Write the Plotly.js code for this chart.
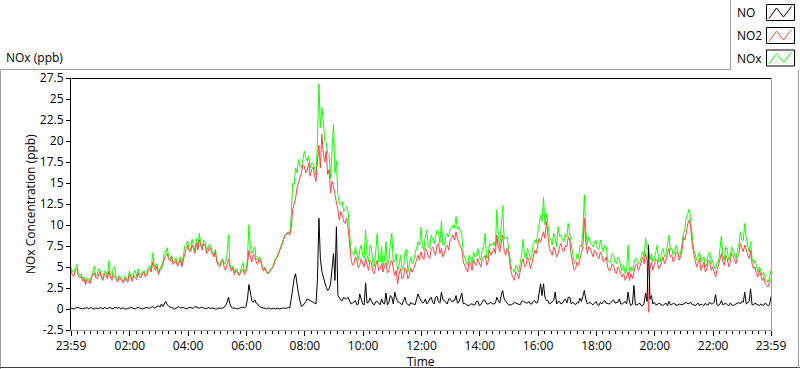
<!DOCTYPE html>
<html>
<head>
<meta charset="utf-8">
<script src="https://cdn.plot.ly/plotly-3.0.1.min.js"></script>
<style>html,body{margin:0;padding:0;background:#fff;}#chart{width:800px;height:369px;}</style>
</head>
<body>
<div id="chart"></div>
<script>
// Readings every 3 minutes from 23:59 to 23:59 next day.
// "on-grid" readings (every 6 min) and the readings between them (the 3-min mid points).
const startTime = Date.UTC(2024, 0, 1, 23, 59);
const stepMinutes = 3;

const no2Grid = [
4.6,3.9,4.8,3.7,3.3,2.9,3.3,3.8,4.3,3.6,4.4,3.4,4.0,4.5,3.4,3.9,3.2,3.6,3.1,3.5,4.1,3.3,3.8,4.3,3.7,4.4,4.0,4.8,5.6,4.6,4.1,4.8,5.9,6.6,5.7,5.3,5.8,5.4,5.0,6.6,7.6,6.8,7.2,7.8,8.2,7.0,7.6,6.9,
7.0,6.2,5.6,5.0,5.8,4.6,5.9,4.5,4.1,4.5,4.2,4.7,4.4,7.0,5.6,6.4,5.3,5.7,4.5,4.4,4.3,4.8,5.8,6.4,7.4,8.4,8.9,8.8,11.8,13.2,15.0,16.2,17.0,16.5,15.8,16.9,15.2,19.5,20.8,17.5,16.0,13.8,14.6,12.8,10.6,11.2,10.2,9.6,
6.0,5.4,5.8,5.2,5.6,6.0,4.6,5.5,4.2,5.8,4.8,4.4,5.5,4.6,5.8,4.0,3.0,4.8,3.8,4.6,4.0,4.4,5.4,6.4,6.8,5.9,7.0,6.0,7.4,6.4,7.8,7.2,6.6,7.6,8.2,8.8,9.2,8.0,7.0,5.2,4.4,5.4,5.8,5.2,5.6,5.9,6.4,5.6,
6.4,7.2,8.8,6.8,8.8,6.4,6.8,4.2,3.4,4.2,4.8,6.0,5.2,5.8,5.4,7.0,7.6,8.0,9.2,10.4,7.2,6.4,7.0,6.6,7.8,6.8,7.4,8.2,5.4,4.8,5.2,6.4,10.8,6.6,7.2,6.2,6.8,6.0,6.4,5.8,5.0,4.6,5.2,4.2,4.8,3.8,3.4,4.4,
4.2,4.6,5.4,5.0,6.2,6.6,-0.4,5.6,5.2,5.8,5.0,6.2,5.8,7.2,6.4,6.0,6.6,6.2,8.6,9.4,10.6,7.6,5.8,5.4,4.6,5.6,4.8,5.6,5.0,3.8,5.2,6.6,5.2,6.0,5.6,6.4,5.4,6.6,7.4,7.6,6.4,7.0,4.8,4.2,4.6,3.4,3.0,2.6,3.6
];
const no2Mid = [
4.0,4.6,3.9,3.9,3.6,3.5,3.0,4.1,3.7,4.2,3.6,4.2,3.6,3.8,4.1,3.5,3.8,3.3,3.7,3.2,3.6,4.0,3.5,3.8,4.2,3.8,4.6,4.4,4.9,5.1,4.6,5.3,6.4,5.9,6.2,5.6,5.1,5.9,5.8,7.2,6.9,7.6,6.6,7.0,7.4,7.8,6.6,7.4,
6.4,6.8,5.2,5.6,5.0,5.4,5.0,4.9,4.6,4.0,4.6,4.1,5.2,6.2,6.5,5.6,6.0,5.0,4.9,4.2,4.7,5.2,6.0,6.9,7.8,8.8,9.1,9.6,12.4,14.4,15.6,17.2,16.2,17.4,16.6,15.9,17.6,16.8,18.6,18.8,16.6,15.2,13.6,11.8,11.6,10.4,10.8,7.2,
5.2,6.2,4.9,6.0,5.0,5.3,5.8,4.5,5.2,4.6,5.4,5.2,4.3,5.6,4.8,4.6,4.2,3.6,4.9,3.6,4.9,4.8,6.0,5.8,6.2,7.2,6.2,7.2,6.8,7.6,6.6,6.2,7.4,7.0,8.4,8.2,8.4,7.4,5.6,4.8,5.6,4.6,5.4,6.0,5.0,6.2,5.2,7.0,
6.8,6.6,7.4,7.8,7.0,7.2,5.4,3.8,4.4,3.6,5.4,5.0,6.2,4.8,6.2,6.6,8.4,8.8,8.4,8.8,6.8,7.4,6.2,7.4,7.0,7.6,8.6,6.4,4.6,5.6,6.0,7.4,7.8,7.4,6.6,7.0,6.2,6.8,5.6,6.2,4.6,5.4,4.4,5.0,4.2,4.2,3.8,3.4,
3.6,5.2,4.6,5.8,5.4,5.8,4.8,4.6,6.0,4.8,5.6,5.4,6.6,6.2,5.6,6.8,5.8,7.0,8.2,10.2,9.6,6.4,5.0,6.0,5.2,4.4,5.8,4.6,4.4,4.6,6.0,5.6,6.4,5.0,6.6,5.8,6.2,7.8,6.8,7.2,6.0,5.4,5.0,3.8,4.0,3.8,2.8,3.2
];

const noxGrid = [
5.0,4.4,5.3,4.0,3.6,3.1,3.6,4.0,5.1,4.0,4.6,3.7,4.4,5.7,3.7,5.1,3.5,3.8,3.3,3.7,4.5,3.4,4.6,4.8,4.0,4.6,4.3,5.2,6.7,4.9,4.3,5.3,6.8,7.3,6.0,5.6,6.1,5.6,5.3,7.5,8.1,7.0,7.5,8.4,9.0,7.3,8.0,7.4,
7.5,6.5,5.8,5.3,6.0,5.6,8.9,4.8,4.3,4.6,4.4,5.5,4.7,10.0,6.6,7.4,5.9,6.0,4.7,4.5,4.4,4.9,6.0,6.6,7.6,8.6,9.0,9.0,15.0,16.8,17.8,16.8,18.8,17.6,16.8,17.4,16.0,26.8,24.0,20.0,18.5,15.5,22.0,17.6,12.5,12.8,12.0,11.6,
6.8,6.4,6.6,7.0,6.4,9.4,5.6,7.2,5.0,9.0,5.6,5.0,8.0,5.8,9.0,5.6,4.6,6.4,4.8,7.1,5.2,5.4,6.6,8.0,9.7,7.0,9.4,7.2,8.2,8.6,9.2,10.5,7.6,9.0,9.6,10.0,11.0,9.8,8.8,6.0,5.2,6.0,6.8,6.4,6.2,7.0,9.0,6.4,
7.6,8.0,11.8,7.4,12.3,8.4,7.4,4.8,4.4,5.0,5.4,8.3,6.0,6.8,6.4,8.2,9.0,11.2,13.3,11.4,8.6,7.6,8.4,9.8,8.8,8.0,8.6,9.0,6.6,5.6,6.0,7.4,13.6,7.6,8.0,7.4,8.2,7.0,7.4,7.6,5.8,5.6,6.4,5.4,6.0,4.6,4.2,7.6,
5.0,5.4,6.0,5.6,6.8,8.4,7.2,6.6,6.0,7.6,5.6,7.2,6.6,8.8,7.2,6.8,7.0,6.6,9.0,11.0,11.9,8.2,6.6,6.2,5.6,6.2,5.4,6.8,5.8,4.8,5.6,8.7,5.8,7.0,6.2,7.0,6.0,7.6,8.2,10.2,7.6,8.0,5.4,5.2,5.0,4.0,3.6,3.2,4.6
];
const noxMid = [
4.4,5.0,4.3,4.2,3.8,3.7,3.2,4.4,3.9,4.8,3.8,4.5,3.9,4.0,4.9,3.7,4.0,3.5,3.9,3.4,3.8,4.3,3.8,4.2,4.4,4.0,5.0,4.6,5.3,5.4,4.8,5.6,6.7,6.2,6.4,5.8,5.3,6.2,6.2,7.7,7.2,8.3,6.9,7.4,7.7,8.2,6.9,7.7,
6.6,7.1,5.4,5.8,5.3,6.4,5.3,5.1,4.8,4.2,4.9,4.4,6.0,7.4,7.0,6.0,6.2,5.2,5.0,4.3,4.8,5.3,6.1,7.0,7.9,8.9,9.2,11.0,14.8,16.2,17.0,17.8,18.0,18.2,17.4,16.8,20.2,21.6,22.5,19.8,18.4,19.0,16.2,13.6,12.4,11.6,12.2,8.4,
6.8,7.4,5.8,7.6,6.0,6.4,7.6,5.4,6.6,5.6,7.4,6.0,5.2,7.8,5.6,6.6,5.2,4.6,6.8,4.4,6.2,5.8,7.4,7.6,7.4,8.8,7.4,8.8,7.8,9.4,7.8,7.6,8.6,8.6,9.6,9.6,9.4,9.2,6.6,5.6,6.4,5.4,6.2,7.2,5.8,7.6,6.0,7.8,
7.6,7.4,8.6,9.4,8.4,8.6,6.0,4.6,5.2,4.4,6.4,6.2,7.2,5.8,7.8,7.8,10.2,10.4,10.0,10.2,8.2,9.0,7.4,8.6,8.2,9.0,10.2,7.2,5.4,6.6,7.6,9.2,9.4,8.6,7.6,8.0,7.2,8.2,6.8,7.4,5.6,6.6,5.6,6.2,5.0,5.2,4.6,4.2,
4.6,6.0,5.4,6.4,6.2,7.2,5.8,5.6,6.8,5.6,6.8,6.2,7.6,7.0,6.4,7.6,6.2,8.2,9.6,11.4,10.4,7.0,5.8,6.8,5.8,5.0,6.6,5.4,5.0,5.6,7.2,6.4,7.4,5.8,7.4,6.6,7.0,9.2,8.2,8.4,6.8,6.0,5.8,4.4,4.6,4.4,3.4,3.8
];

const noGrid = [
0.1,0.0,0.2,0.1,0.0,0.1,0.0,0.2,0.0,0.1,0.2,0.0,0.1,0.2,0.1,0.2,0.1,0.0,0.1,0.0,0.1,0.1,0.0,0.2,0.1,0.1,0.2,0.1,0.3,0.2,0.4,0.6,0.6,0.5,0.2,0.1,0.1,0.3,0.2,0.1,0.1,0.2,0.1,0.2,0.1,0.2,0.1,0.2,
0.1,0.1,0.0,0.1,0.1,0.4,1.4,0.2,0.1,0.0,0.1,0.2,0.3,2.9,1.0,1.1,0.6,0.2,0.1,0.0,0.1,0.1,0.0,0.1,0.1,0.1,0.1,0.1,2.6,4.2,1.8,0.3,0.6,1.2,1.0,0.8,0.6,10.8,4.5,3.0,2.2,3.0,6.6,9.8,1.3,1.0,1.2,1.4,
0.6,0.8,0.5,1.8,0.6,3.1,0.8,1.0,0.5,0.9,0.5,0.7,1.9,0.8,1.4,2.0,0.9,0.6,1.0,0.7,0.4,0.6,0.5,1.8,1.0,0.8,0.6,1.2,0.8,1.4,0.9,2.0,1.0,0.6,1.2,1.0,1.6,0.8,1.9,0.7,0.4,0.6,0.5,0.9,0.4,0.8,1.0,0.6,
0.8,0.6,1.4,0.7,2.2,1.0,0.5,0.5,0.8,0.6,0.5,1.0,0.7,0.9,0.6,1.0,0.8,3.0,3.0,1.0,0.6,0.8,2.0,0.9,0.6,1.0,0.7,1.4,0.8,0.5,0.7,0.9,2.2,0.6,0.8,0.5,0.9,0.4,0.6,1.0,0.6,0.7,1.1,0.8,1.2,0.6,0.9,2.0,
0.4,2.8,0.5,0.7,0.4,1.9,7.6,1.6,0.8,0.5,0.6,0.4,0.7,0.9,0.5,0.6,0.4,0.5,0.6,0.8,0.7,0.5,0.4,0.7,0.6,0.4,0.5,0.8,0.6,1.7,0.4,1.0,0.6,0.5,0.7,0.4,0.6,0.8,0.9,2.0,0.7,2.4,0.5,0.6,0.4,0.5,0.7,0.4,1.5
];
const noMid = [
0.0,0.1,0.2,0.0,0.1,0.2,0.1,0.0,0.1,0.0,0.1,0.2,0.0,0.1,0.0,0.1,0.2,0.1,0.0,0.1,0.2,0.0,0.1,0.1,0.0,0.2,0.1,0.2,0.1,0.3,0.2,0.3,0.9,0.3,0.2,0.0,0.2,0.1,0.2,0.0,0.2,0.1,0.3,0.1,0.2,0.1,0.0,0.1,
0.1,0.0,0.1,0.1,0.2,0.8,0.6,0.1,0.1,0.1,0.2,0.1,1.2,1.8,0.8,0.7,0.3,0.2,0.1,0.1,0.0,0.1,0.1,0.0,0.1,0.1,0.2,1.2,3.6,2.8,1.0,0.4,0.9,1.1,0.8,0.6,3.5,6.0,3.8,2.6,2.4,4.8,3.4,1.6,1.1,1.4,1.2,1.0,
0.7,1.0,0.6,1.2,0.5,0.7,1.3,0.6,0.9,0.7,1.2,0.6,0.5,1.6,0.6,1.3,0.8,0.5,1.4,0.5,0.8,0.6,1.2,1.3,0.7,1.2,0.8,1.4,0.6,1.5,0.7,1.1,0.8,1.2,0.9,1.0,0.7,1.5,0.6,0.5,0.4,0.6,0.5,0.9,0.5,1.1,0.6,0.7,
0.6,0.7,1.0,1.6,1.2,0.8,0.5,0.6,0.7,0.5,0.9,0.8,0.7,0.6,0.9,0.7,2.2,1.6,1.4,1.0,0.7,1.0,0.6,0.9,0.7,1.2,1.4,0.6,0.7,0.8,1.3,1.5,1.2,0.7,0.6,0.7,0.5,0.8,0.9,0.7,0.6,0.9,0.7,0.8,0.6,0.7,0.6,0.8,
0.6,0.5,0.6,0.4,0.7,0.9,1.2,0.6,0.5,0.7,0.5,0.6,0.4,0.5,0.7,0.4,0.6,0.5,0.7,0.6,0.8,0.5,0.6,0.4,0.5,0.7,0.5,0.6,0.8,0.5,0.6,0.5,0.7,0.4,0.6,0.5,0.7,0.6,0.8,0.6,0.9,0.5,0.7,0.5,0.6,0.4,0.6,0.5
];

// Axis ticks
const xTickMinutes = [0, 121, 241, 361, 481, 601, 721, 841, 961, 1081, 1201, 1321, 1440];
const xTickLabels = ["23:59","02:00","04:00","06:00","08:00","10:00","12:00","14:00","16:00","18:00","20:00","22:00","23:59"];
const yTickValues = [-2.5,0,2.5,5,7.5,10,12.5,15,17.5,20,22.5,25,27.5];
const yTickLabels = ["-2.5","0","2.5","5","7.5","10","12.5","15","17.5","20","22.5","25","27.5"];
const seriesNames = ["NO","NO2","NOx"];
const seriesColors = ["#000000","#ff4646","#12ff00"];

// merge grid readings and mid readings in time order
function merge(grid, mid) {
  const out = [];
  grid.forEach((v, i) => { out.push(v); if (i < mid.length) out.push(mid[i]); });
  return out;
}
const no2 = merge(no2Grid, no2Mid);
const nox = merge(noxGrid, noxMid);
const no = merge(noGrid, noMid);
const times = no2.map((_, i) => startTime + i * stepMinutes * 60000);

const FONT = "'Open Sans', 'Noto Sans', sans-serif";

// plot area in pixels: x 71..771, y 78..330
const L = 71, R = 771, T = 78, B = 330;
const px = x => (x - L) / (R - L);
const py = y => (B - y) / (B - T);

const traces = [
  {x: times, y: nox, name: seriesNames[2], type: 'scatter', mode: 'lines', line: {color: seriesColors[2], width: 1}},
  {x: times, y: no2, name: seriesNames[1], type: 'scatter', mode: 'lines', line: {color: seriesColors[1], width: 1}},
  {x: times, y: no,  name: seriesNames[0], type: 'scatter', mode: 'lines', line: {color: seriesColors[0], width: 1}}
];

function line(x0, y0, x1, y1, color) {
  return {type: 'line', xref: 'paper', yref: 'paper', x0: px(x0), y0: py(y0), x1: px(x1), y1: py(y1),
          line: {color: color, width: 1}, layer: 'above'};
}

const shapes = [
  line(71.5, 78.5, 771.5, 78.5, '#000'),
  line(771.5, 78.5, 771.5, 330.5, '#a0a0a0'),
  line(0.5, 69.5, 730.5, 69.5, '#a0a0a0'),
  line(730.5, 0, 730.5, 69.5, '#a0a0a0'),
  line(0.5, 69.5, 0.5, 369, '#a0a0a0'),
  line(0, 367.5, 800, 367.5, '#404040'),
  line(798.5, 69.5, 798.5, 368, '#a0a0a0')
];
const annotations = [
  {text: 'NOx (ppb)', x: px(4), y: py(57), xanchor: 'left', yanchor: 'middle'},
  {text: 'Time', x: px(421), y: py(361), xanchor: 'center', yanchor: 'middle'},
  {text: 'NOx Concentration (ppb)', x: px(30), y: py(204), xanchor: 'center', yanchor: 'middle', textangle: -90}
].map(a => Object.assign({xref: 'paper', yref: 'paper', showarrow: false, font: {family: FONT, size: 12, color: '#000'}}, a));

const legendRows = [12.5, 35.5, 58];
seriesNames.forEach((name, k) => {
  const cy = legendRows[k];
  annotations.push({xref: 'paper', yref: 'paper', showarrow: false, text: name, x: px(735), y: py(cy),
    xanchor: 'left', yanchor: 'middle', font: {family: FONT, size: 12, color: '#000'}});
  const top = cy - 8, bot = cy + 8;
  shapes.push({type: 'rect', xref: 'paper', yref: 'paper', x0: px(766.5), x1: px(794.5), y0: py(bot), y1: py(top),
    line: {color: '#000', width: 1}, fillcolor: '#fff', layer: 'above'});
  const pts = [[769, cy + 6], [776.5, cy - 4.5], [783.5, cy + 4.5], [791.5, cy - 6]];
  const path = 'M' + pts.map(p => px(p[0]) + ',' + py(p[1])).join(' L');
  shapes.push({type: 'path', xref: 'paper', yref: 'paper', path: path, line: {color: seriesColors[k], width: 1}, layer: 'above'});
});

const layout = {
  width: 800, height: 369,
  margin: {l: L, r: 800 - R, t: T, b: 369 - B, pad: 0},
  paper_bgcolor: '#ffffff', plot_bgcolor: '#ffffff',
  showlegend: false,
  font: {family: FONT, size: 12, color: '#000'},
  xaxis: {
    type: 'date',
    range: [startTime, startTime + 1440 * 60000],
    tickmode: 'array',
    tickvals: xTickMinutes.map(m => startTime + m * 60000),
    ticktext: xTickLabels,
    ticks: 'outside', ticklen: 5, tickcolor: '#000', tickwidth: 1,
    tickfont: {family: FONT, size: 12, color: '#000'},
    showgrid: false, zeroline: false,
    showline: true, linecolor: '#a0a0a0', linewidth: 1,
    minor: {ticks: 'outside', ticklen: 3, tickcolor: '#000', tickwidth: 1, dtick: 800000,
            tick0: startTime + 121 * 60000, showgrid: false},
    fixedrange: true
  },
  yaxis: {
    range: [-2.5, 27.5],
    tickmode: 'array',
    tickvals: yTickValues,
    ticktext: yTickLabels,
    ticks: 'outside', ticklen: 4, tickcolor: '#000', tickwidth: 1,
    tickfont: {family: FONT, size: 12, color: '#000'},
    showgrid: false, zeroline: false,
    showline: true, linecolor: '#000', linewidth: 1,
    fixedrange: true
  },
  shapes: shapes,
  annotations: annotations
};

Plotly.newPlot('chart', traces, layout, {staticPlot: true, displayModeBar: false});
</script>
</body>
</html>
